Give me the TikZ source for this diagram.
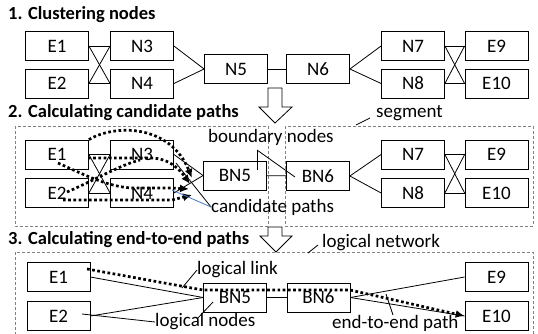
\documentclass[tikz,border=0pt]{standalone}
\usepackage{fontspec}
\setmainfont{Carlito}
\usetikzlibrary{arrows.meta}
\tikzset{
  nd/.style={draw, line width=0.8pt, minimum width=63pt, minimum height=29pt, inner sep=0pt, font=\fontsize{19}{22}\selectfont},
  lbl/.style={anchor=west, inner sep=0pt, font=\fontsize{19}{22}\selectfont},
  ttl/.style={anchor=west, inner sep=0pt, font=\fontsize{18.5}{21}\selectfont\bfseries},
  ln/.style={line width=0.8pt},
  seg/.style={draw=gray, line width=0.8pt, dash pattern=on 3pt off 2pt},
  cand/.style={line width=2.7pt, dash pattern=on 2.7pt off 2.5pt, -{Latex[length=9pt,width=8pt]}},
  bigarrow/.style={draw, line width=0.8pt, fill=white},
}
\begin{document}
\begin{tikzpicture}[x=1pt,y=-1pt]
        \useasboundingbox (0,0) rectangle (538,333);
        % 1. clustering
        \node[ttl] (t1) at (8,15) {1. Clustering nodes};
        \node[nd] (e1a) at (57,46) {E1};
        \node[nd] (e2a) at (57,83.5) {E2};
        \node[nd] (n3a) at (142,46) {N3};
        \node[nd] (n4a) at (142,83.5) {N4};
        \node[nd] (n5a) at (236,69) {N5};
        \node[nd] (n6a) at (318,69) {N6};
        \node[nd] (n7a) at (413,46) {N7};
        \node[nd] (n8a) at (413,83.5) {N8};
        \node[nd] (e9a) at (496.5,46) {E9};
        \node[nd] (e10a) at (496.5,83.5) {E10};
        \draw [ln] (e1a) to (n3a);
        \draw [ln] (e2a) to (n4a);
        \draw [ln] (e1a.east) to (n4a.west);
        \draw [ln] (e2a.east) to (n3a.west);
        \draw [ln] (n3a.east) to (n5a.west);
        \draw [ln] (n4a.east) to (n5a.west);
        \draw [ln] (n5a) to (n6a);
        \draw [ln] (n6a.east) to (n7a.west);
        \draw [ln] (n6a.east) to (n8a.west);
        \draw [ln] (n7a) to (e9a);
        \draw [ln] (n8a) to (e10a);
        \draw [ln] (n7a.east) to (e10a.west);
        \draw [ln] (n8a.east) to (e9a.west);
        \draw [bigarrow] (268,88) -- (282,88) -- (282,107) -- (292,107) -- (275,123) -- (259,107) -- (268,107) -- cycle;
        % 2. candidate paths
        \node[ttl] (t2) at (8,113) {2. Calculating candidate paths};
        \draw [seg] (15,126) rectangle (268,226);
        \draw [seg] (285,126) rectangle (533,226);
        \node[nd] (e1b) at (57,154.5) {E1};
        \node[nd] (e2b) at (57,193) {E2};
        \node[nd] (n3b) at (142,154.5) {N3};
        \node[nd] (n4b) at (142,193) {N4};
        \node[nd] (bn5b) at (235,175.5) {BN5};
        \node[nd] (bn6b) at (318,176) {BN6};
        \node[nd] (n7b) at (413,154.5) {N7};
        \node[nd] (n8b) at (413,193) {N8};
        \node[nd] (e9b) at (496.5,154.5) {E9};
        \node[nd] (e10b) at (496.5,193) {E10};
        \draw [ln] (e1b) to (n3b);
        \draw [ln] (e2b) to (n4b);
        \draw [ln] (e1b.east) to (n4b.west);
        \draw [ln] (e2b.east) to (n3b.west);
        \draw [ln] (n3b.east) to (bn5b.west);
        \draw [ln] (n4b.east) to (bn5b.west);
        \draw [ln] (bn5b) to (bn6b);
        \draw [ln] (bn6b.east) to (n7b.west);
        \draw [ln] (bn6b.east) to (n8b.west);
        \draw [ln] (n7b) to (e9b);
        \draw [ln] (n8b) to (e10b);
        \draw [ln] (n7b.east) to (e10b.west);
        \draw [ln] (n8b.east) to (e9b.west);
%        candidate paths into BN5
        \coordinate (tipa) at (192,178);
        \coordinate (tipb) at (190,184);
        \coordinate (tipc) at (189,189);
        \coordinate (tipd) at (192,195);
        \draw [cand] (e1b.north east) .. controls (115,124) and (170,124) .. (tipa);
        \draw [cand] (88,158) -- (150,158) .. controls (170,158) and (180,170) .. (tipb);
        \draw [cand, -] (67,192) .. controls (95,180) and (120,165) .. (140,160);
        \draw [cand] (58,163) .. controls (85,175) and (110,188) .. (135,188) -- (172,188) -- (tipc);
        \draw [cand] (63,200) -- (172,200) -- (tipd);
        \node[lbl] (bnl) at (208,137) {boundary nodes};
        \coordinate (bnp) at (257,150);
        \draw [ln] (bnp) -- (257,170);
        \draw [ln] (bnp) -- (295,177);
        \node[lbl] (cpl) at (211,207) {candidate paths};
        \draw [ln] (cpl.west) -- (176,163);
        \draw [ln, draw={rgb,255:red,70;green,120;blue,190}] (cpl.west) -- (172,190);
        \node[lbl] (sgl) at (376,113) {segment};
        \draw [ln] (356,125) -- (370,118);
        \draw [bigarrow] (268,227) -- (282,227) -- (282,236) -- (292,236) -- (276,252) -- (260,236) -- (268,236) -- cycle;
        % 3. end-to-end paths
        \node[ttl] (t3) at (8,240) {3. Calculating end-to-end paths};
        \draw [seg] (15,340) -- (15,252) -- (533,252) -- (533,340);
        \node[nd] (e1c) at (58.5,277) {E1};
        \node[nd] (e2c) at (58.5,316) {E2};
        \node[nd] (bn5c) at (235,297.5) {BN5};
        \node[nd] (bn6c) at (318.5,297.5) {BN6};
        \node[nd] (e9c) at (496.5,277) {E9};
        \node[nd] (e10c) at (496.5,316) {E10};
        \draw [ln] (e1c.east) to (bn5c.west);
        \draw [ln] (e2c.east) to (bn5c.west);
        \draw [ln] (bn5c) to (bn6c);
        \draw [ln] (bn6c.east) to (e9c.west);
        \draw [ln] (bn6c.east) to (e10c.west);
        \coordinate (p0) at (87,269);
        \coordinate (p1) at (203,290);
        \coordinate (p2) at (350,290);
        \draw [cand] (p0) -- (p1) -- (p2) -- (e10c.west);
        \node[lbl] (lnl) at (197,270) {logical link};
        \draw [ln] (182,288) -- (lnl.west);
        \node[lbl] (lnd) at (155,322) {logical nodes};
        \draw [ln] (lnd.west) -- (82,314);
        \draw [ln] (197,319) -- (213,302);
        \node[lbl] (e2e) at (332,323) {end-to-end path};
        \draw [ln] (393,315) -- (386,294);
        \node[lbl] (lgn) at (322,243) {logical network};
        \draw [ln] (308,253) -- (318,245);
      \end{tikzpicture}
\end{document}
